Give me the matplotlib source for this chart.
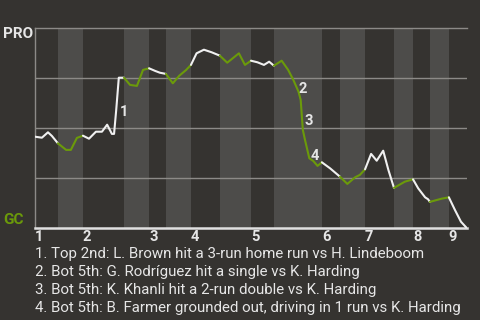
import matplotlib
matplotlib.use("Agg")
import matplotlib.pyplot as plt
import numpy as np

# ---- data ----
# game progress (arbitrary units 0-100) and PRO win probability (%)
progress = [0, 1.6, 3.0, 3.9, 5.3, 7.2, 8.3, 9.7, 11.1, 12.5, 14.1, 15.5, 16.7, 17.8,
            18.3, 18.8, 19.4, 20.6, 22.0, 23.6, 25.0, 26.4, 27.8, 28.9, 30.3, 31.9,
            33.4, 35.0, 36.1, 37.4, 39.1, 40.9, 42.8, 44.5, 47.2, 48.6, 50.0, 51.5,
            53.0, 54.2, 55.3, 57.1, 58.6, 59.8, 61.0, 61.5, 62.0, 62.5, 63.5, 64.4,
            65.4, 66.4, 68.3, 70.6, 72.3, 74.1, 75.2, 76.4, 77.8, 79.1, 80.6, 81.8,
            83.1, 85.6, 87.5, 88.7, 90.3, 91.0, 91.4, 94.1, 95.8, 97.2, 98.6, 100]
win_prob = [45.8, 45.3, 48.0, 46.2, 42.5, 39.2, 39.2, 45.2, 46.3, 44.8, 48.3, 48.3, 51.8, 47.2,
            47.2, 59.2, 75.3, 75.3, 71.7, 71.2, 79.2, 80.0, 78.7, 77.8, 77.2, 72.5,
            76.3, 79.2, 81.7, 87.5, 89.3, 88.0, 86.3, 82.8, 87.5, 81.7, 83.8, 83.0,
            81.7, 83.3, 81.3, 83.8, 79.2, 74.2, 68.3, 64.2, 49.2, 44.2, 35.0, 33.7,
            31.2, 33.0, 30.0, 25.8, 22.2, 25.5, 26.7, 29.5, 37.2, 33.8, 38.8, 29.2,
            20.2, 23.3, 24.5, 20.0, 15.5, 14.5, 13.2, 14.8, 15.5, 9.2, 3.3, 0.0]
# half-inning start positions (top 1st, bot 1st, top 2nd, ...), game end
half_starts = [0, 5.3, 11.1, 20.6, 26.4, 30.3, 36.1, 42.8, 50.0, 55.3, 66.4, 70.6,
               76.4, 83.1, 87.5, 91.4, 95.8]
game_end = 100
inning_labels = ["1", "2", "3", "4", "5", "6", "7", "8", "9"]
event_marks = ["1", "2", "3", "4"]
event_texts = [
    "1. Top 2nd: L. Brown hit a 3-run home run vs H. Lindeboom",
    "2. Bot 5th: G. Rodríguez hit a single vs K. Harding",
    "3. Bot 5th: K. Khanli hit a 2-run double vs K. Harding",
    "4. Bot 5th: B. Farmer grounded out, driving in 1 run vs K. Harding",
]
away_team = "PRO"
home_team = "GC"

# ---- style ----
BG = "#353330"
BAND = "#4d4c4a"
GREEN = "#6b9a0a"
WHITE = "#f0f0f0"
GRID = "#8c8a87"
TEXT = "#e6e6e6"

plt.rcParams["font.family"] = ["Roboto", "DejaVu Sans"]

fig = plt.figure(figsize=(4.8, 3.2), dpi=100, facecolor=BG)
ax = fig.add_axes([35 / 480, (320 - 228.3) / 320, 432 / 480, 200 / 320])
ax.set_facecolor(BG)
ax.set_xlim(0, game_end)
ax.set_ylim(0, 100)

bounds = half_starts + [game_end]
for i in range(len(half_starts)):
    if i % 2 == 1:
        ax.axvspan(bounds[i], bounds[i + 1], color=BAND, lw=0, zorder=0)

for g in (25, 50, 75):
    ax.axhline(g, color=GRID, lw=1.0, zorder=1)

x = np.array(progress)
y = np.array(win_prob)
for i in range(len(half_starts)):
    a, b = bounds[i], bounds[i + 1]
    m = (x >= a - 1e-9) & (x <= b + 1e-9)
    col = GREEN if i % 2 == 1 else WHITE
    ax.plot(x[m], y[m], color=col, lw=1.5, zorder=3, solid_joinstyle="round",
            solid_capstyle="round")

# event markers
px2pt = 0.72
anchors = [
    ((progress[14] + progress[16]) / 2, (win_prob[14] + win_prob[16]) / 2, 3, -6),
    (progress[44], win_prob[44], 0, 2.4),
    (progress[46], win_prob[46], 2, 9),
    (progress[48], win_prob[48], 1, 2.6),
]
for mark, (ax_x, ax_y, dx, dy) in zip(event_marks, anchors):
    ax.annotate(mark, (ax_x, ax_y), xytext=(dx * px2pt, dy * px2pt),
                textcoords="offset points", ha="left", va="center",
                color=TEXT, fontsize=10.5, fontweight="bold", zorder=5)

ax.spines["right"].set_visible(False)
ax.spines["top"].set_color(GRID)
ax.spines["top"].set_linewidth(1.0)
ax.spines["left"].set_color(GRID)
ax.spines["left"].set_linewidth(1.0)
ax.spines["bottom"].set_color("#e0e0e0")
ax.spines["bottom"].set_linewidth(1.8)

ax.set_yticks([])
inning_starts = half_starts[0::2]
ax.set_xticks(inning_starts)
ax.set_xticklabels(inning_labels, ha="left", fontsize=10.5, fontweight="bold", color=TEXT)
ax.tick_params(axis="x", length=0, pad=1)

fig.text(3 / 480, 1 - 34 / 320, away_team, color=TEXT, fontsize=11,
         fontweight="bold", ha="left", va="center")
fig.text(3 / 480, 1 - 219.7 / 320, home_team, color=GREEN, fontsize=11,
         fontweight="bold", ha="left", va="center")

for k, t in enumerate(event_texts):
    fig.text(35 / 480, 1 - (253.7 + 18 * k) / 320, t, color=TEXT, fontsize=10.8,
             ha="left", va="center")

fig.savefig("out.png", dpi=100, facecolor=BG)
